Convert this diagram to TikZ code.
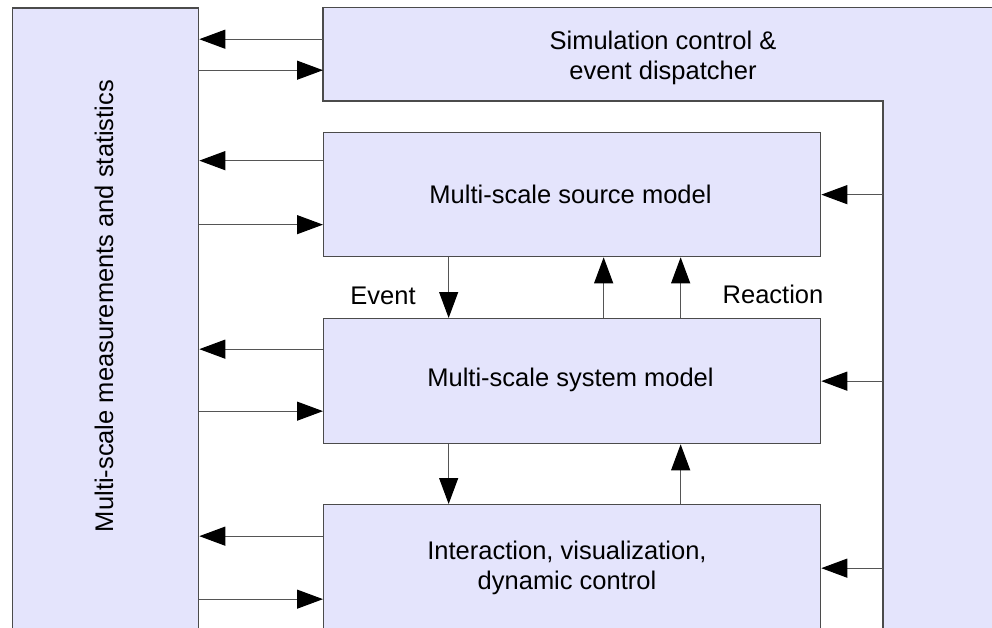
\documentclass[tikz,border=0pt]{standalone}
\usepackage{fontspec}
\setmainfont{Liberation Sans}
\usetikzlibrary{arrows.meta,calc}

\definecolor{boxfill}{RGB}{228,228,252}
\definecolor{boxline}{RGB}{75,75,75}
\definecolor{wireline}{RGB}{85,85,85}

\tikzset{
  blockbox/.style={draw=boxline, fill=boxfill, line width=1.3pt,
    rectangle, inner sep=0pt, anchor=north west, align=center},
  plainfill/.style={fill=boxfill, draw=none, rectangle, inner sep=0pt,
    anchor=north west, align=center},
  wire/.style={draw=wireline, line width=1.1pt,
    -{Triangle[length=26pt,width=19pt,color=black]}},
  tag/.style={inner sep=0pt, align=center},
}

\begin{document}
\begin{tikzpicture}[x=1pt,y=-1pt,font=\fontsize{25.5}{30.5}\selectfont]
\useasboundingbox (0,0) rectangle (992,627);
\clip (0,0) rectangle (992,627);

% measurements column on the left
\node[blockbox, minimum width=186pt, minimum height=680pt] (meas) at (12,7.3) {};
\node[tag, rotate=90] (meastext) at (104,306) {Multi-scale measurements and statistics};

% dispatcher: top bar plus a column running down the right side
\node[plainfill, minimum width=669pt, minimum height=93.4pt] (disp) at (323,7.3) {};
\node[tag] (disptext) at (663,58) {Simulation control \&\\ event dispatcher};
\node[plainfill, minimum width=120pt, minimum height=640pt] (dispcol) at (883,7.3) {};
\draw[boxline, line width=1.3pt]
  ($(disp.north east)+(20,0)$) -- (disp.north west) -- (disp.south west)
  -- (dispcol.west |- disp.south) -- (dispcol.south west);

% model blocks
\node[blockbox, minimum width=497pt, minimum height=124pt] (src) at (323,132) {};
\node[tag] (srctext) at (570.5,194) {Multi-scale source model};
\node[blockbox, minimum width=497pt, minimum height=125pt] (sys) at (323,318) {};
\node[tag] (systext) at (570.5,380) {Multi-scale system model};
\node[blockbox, minimum width=497pt, minimum height=127pt] (inter) at (323,504) {};
\node[tag] (intertext) at (567,568) {Interaction, visualization,\\ dynamic control};

% attachment points on the left side of each block
\coordinate (d1) at ([yshift=15pt]disp.west);
\coordinate (d2) at ([yshift=-16pt]disp.west);
\coordinate (s1) at ([yshift=34pt]src.west);
\coordinate (s2) at ([yshift=-30pt]src.west);
\coordinate (y1) at ([yshift=32pt]sys.west);
\coordinate (y2) at ([yshift=-30pt]sys.west);
\coordinate (i1) at ([yshift=32pt]inter.west);
\coordinate (i2) at ([yshift=-31pt]inter.west);

% exchanges with the measurements column
\draw[wire] (d1) -- (d1 -| meas.east);
\draw[wire] (meas.east |- d2) -- (d2);
\draw[wire] (s1) -- (s1 -| meas.east);
\draw[wire] (meas.east |- s2) -- (s2);
\draw[wire] (y1) -- (y1 -| meas.east);
\draw[wire] (meas.east |- y2) -- (y2);
\draw[wire] (i1) -- (i1 -| meas.east);
\draw[wire] (meas.east |- i2) -- (i2);

% dispatcher feeds every block from the right
\draw[wire] (dispcol.west |- src.east) -- (src.east);
\draw[wire] (dispcol.west |- sys.east) -- (sys.east);
\draw[wire] (dispcol.west |- inter.east) -- (inter.east);

% events down, reactions up
\draw[wire] ([xshift=-123.5pt]src.south) -- ([xshift=-123.5pt]sys.north);
\draw[wire] ([xshift=31.5pt]sys.north) -- ([xshift=31.5pt]src.south);
\draw[wire] ([xshift=108.5pt]sys.north) -- ([xshift=108.5pt]src.south);
\draw[wire] ([xshift=-123.5pt]sys.south) -- ([xshift=-123.5pt]inter.north);
\draw[wire] ([xshift=108.5pt]inter.north) -- ([xshift=108.5pt]sys.south);

\node[tag] (eventlbl) at (383,296) {Event};
\node[tag] (reactlbl) at (773,294) {Reaction};
\end{tikzpicture}
\end{document}
